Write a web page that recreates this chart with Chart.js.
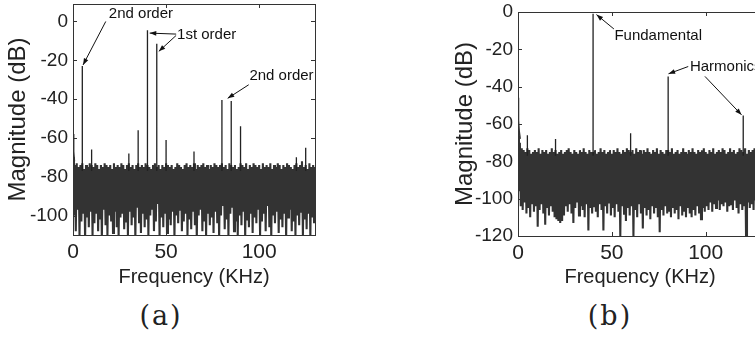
<!DOCTYPE html>
<html>
<head>
<meta charset="utf-8">
<script src="https://cdn.jsdelivr.net/npm/chart.js@4.4.1/dist/chart.umd.min.js"></script>
<style>
    html, body { margin: 0; padding: 0; background: #fff; overflow: hidden; width: 755px; height: 343px; }
    canvas { position: absolute; top: 0; }
    #chartA { left: 0; }
    #chartB { left: 445px; }
    .caption {
        position: absolute; top: 300px; line-height: 32px;
        font-family: "DejaVu Serif", serif; font-size: 27px; color: #222;
        letter-spacing: 2px; transform: translateX(-50%);
    }
</style>
</head>
<body>
<canvas id="chartA" width="330" height="300"></canvas>
<canvas id="chartB" width="330" height="300"></canvas>
<div class="caption" style="left:161px">(a)</div>
<div class="caption" style="left:610px">(b)</div>

<script>
// ==========================================
// SPECTRUM PLOTS (a) and (b)
// ==========================================

// --- SHARED AXES ---
const noiseStepKHz = 1;              // spacing of the noise-floor readings
const freqTicks = [0, 50, 100];

// --- PANEL (a): two-tone test ---
const magTicksA = [0, -20, -40, -60, -80, -100];
// noise floor top / bottom edge, read every 1 kHz from 0 to 130 kHz
const noiseTopA = [
    -70, -74, -73, -75, -74, -73, -76, -74, -75, -73,
    -74, -75, -73, -74, -76, -74, -75, -73, -74, -75,
    -74, -76, -73, -75, -74, -75, -73, -74, -76, -74,
    -73, -75, -74, -76, -74, -73, -75, -74, -75, -73,
    -74, -75, -76, -74, -73, -75, -74, -76, -74, -75,
    -73, -74, -75, -74, -76, -75, -73, -74, -75, -76,
    -74, -73, -75, -74, -75, -73, -76, -74, -75, -74,
    -73, -75, -74, -76, -74, -75, -73, -74, -75, -74,
    -73, -75, -74, -76, -73, -74, -75, -74, -76, -75,
    -73, -74, -75, -73, -76, -74, -75, -73, -74, -75,
    -74, -76, -73, -75, -74, -75, -73, -76, -74, -75,
    -73, -74, -76, -74, -75, -73, -74, -75, -76, -74,
    -73, -75, -74, -72, -75, -74, -76, -73, -75, -74,
    -75
];
const noiseBottomA = [
    -100, -108, -97, -110, -103, -99, -112, -101, -106, -98,
    -110, -104, -99, -108, -102, -112, -97, -105, -110, -100,
    -103, -109, -98, -106, -111, -101, -99, -107, -103, -110,
    -98, -105, -101, -112, -96, -104, -109, -99, -106, -102,
    -110, -100, -97, -108, -103, -94, -111, -101, -106, -99,
    -109, -102, -105, -98, -111, -100, -104, -97, -108, -103,
    -99, -110, -102, -107, -98, -105, -112, -100, -97, -108,
    -103, -110, -99, -105, -101, -109, -98, -104, -111, -100,
    -95, -107, -102, -110, -99, -96, -108, -103, -110, -100,
    -105, -98, -111, -102, -106, -99, -109, -101, -104, -97,
    -110, -103, -99, -108, -95, -106, -111, -100, -104, -98,
    -109, -102, -106, -99, -111, -101, -97, -108, -103, -110,
    -100, -105, -98, -110, -102, -107, -99, -111, -101, -104,
    -106
];
const toneFreqA = [5, 10, 30, 35, 40, 45, 50, 65, 80, 85, 90, 120, 125];
const tonePeakA = [-23, -66, -68, -56, -4.5, -11.5, -61, -67, -40.5, -41, -54, -70, -65];
const dcFreqA = [0, 0.4, 0.8];
const dcMagA = [-58, -67, -72];

// --- PANEL (b): single tone with harmonics ---
const magTicksB = [0, -20, -40, -60, -80, -100, -120];
const noiseTopB = [
    -66, -70, -73, -74, -75, -73, -74, -76, -75, -74,
    -75, -73, -76, -74, -75, -74, -76, -75, -73, -75,
    -74, -76, -75, -74, -76, -75, -74, -73, -75, -76,
    -74, -75, -76, -74, -75, -73, -75, -76, -74, -75,
    -75, -74, -76, -75, -73, -75, -74, -76, -75, -74,
    -76, -74, -75, -73, -75, -76, -74, -75, -73, -74,
    -75, -74, -76, -73, -75, -74, -76, -74, -75, -73,
    -75, -76, -74, -75, -73, -76, -74, -75, -76, -74,
    -74, -75, -73, -76, -75, -74, -76, -75, -73, -75,
    -76, -74, -75, -73, -75, -76, -74, -75, -74, -73,
    -75, -76, -74, -75, -73, -76, -75, -74, -75, -73,
    -74, -76, -75, -73, -75, -74, -76, -75, -73, -74,
    -75, -73, -76, -74, -75, -74, -73, -75, -76, -74,
    -75
];
const noiseBottomB = [
    -96, -104, -106, -102, -108, -105, -110, -103, -107, -104,
    -115, -106, -103, -108, -114, -105, -109, -104, -107, -110,
    -111, -112, -113, -112, -109, -104, -107, -103, -108, -113,
    -105, -102, -109, -104, -106, -110, -103, -117, -105, -108,
    -104, -107, -110, -103, -106, -117, -104, -108, -102, -109,
    -105, -110, -103, -107, -120, -104, -108, -112, -105, -109,
    -104, -120, -106, -110, -103, -108, -116, -105, -109, -106,
    -111, -104, -108, -105, -110, -118, -106, -109, -104, -108,
    -107, -110, -105, -108, -106, -111, -104, -109, -107, -110,
    -105, -108, -110, -106, -109, -104, -108, -111, -105, -107,
    -104, -106, -102, -107, -103, -105, -101, -106, -103, -104,
    -102, -107, -104, -103, -106, -101, -105, -108, -103, -106,
    -104, -120, -102, -105, -103, -106, -101, -104, -107, -103,
    -105
];
const toneFreqB = [5, 20, 40, 60, 80, 120];
const tonePeakB = [-66, -68, -1, -65, -34.5, -55.5];
const dcFreqB = [0, 0.3, 0.7, 1.2];
const dcMagB = [-46, -58, -64, -68];

// --- HELPERS ---

// alternate top/bottom readings so the trace fills the floor like a dense FFT
function noiseTrace(top, bottom) {
    const pts = [];
    top.forEach((t, i) => {
        pts.push({ x: i * noiseStepKHz, y: t });
        pts.push({ x: (i + 0.5) * noiseStepKHz, y: bottom[i] });
    });
    return pts;
}

// tone lines start just inside the top of the noise floor
function toneLines(freqs, peaks) {
    const pts = [];
    freqs.forEach((f, i) => {
        pts.push({ x: f, y: -77 }, { x: f, y: peaks[i] }, { x: f, y: null });
    });
    return pts;
}

function pairs(xs, ys) {
    return xs.map((x, i) => ({ x: x, y: ys[i] }));
}

// box + inward tick marks, matlab style
const framePlugin = {
    id: 'frame',
    afterDatasetsDraw(chart) {
        const { ctx, chartArea: a, scales: { x, y } } = chart;
        ctx.save();
        ctx.strokeStyle = '#333';
        ctx.lineWidth = 1;
        ctx.strokeRect(Math.round(a.left) + 0.5, Math.round(a.top) + 0.5,
            Math.round(a.right - a.left), Math.round(a.bottom - a.top));
        ctx.beginPath();
        x.ticks.forEach(t => {
            const px = Math.round(x.getPixelForValue(t.value)) + 0.5;
            ctx.moveTo(px, a.bottom); ctx.lineTo(px, a.bottom - 4);
            ctx.moveTo(px, a.top); ctx.lineTo(px, a.top + 4);
        });
        y.ticks.forEach(t => {
            const py = Math.round(y.getPixelForValue(t.value)) + 0.5;
            ctx.moveTo(a.left, py); ctx.lineTo(a.left + 4, py);
            ctx.moveTo(a.right, py); ctx.lineTo(a.right - 4, py);
        });
        ctx.stroke();
        ctx.restore();
    }
};

// text labels and arrows placed in data coordinates
const notesPlugin = {
    id: 'notes',
    afterDraw(chart, args, opts) {
        const { ctx, scales: { x, y } } = chart;
        ctx.save();
        ctx.fillStyle = '#111';
        ctx.strokeStyle = '#111';
        ctx.lineWidth = 1;
        ctx.font = '15px "Liberation Sans", Arial, sans-serif';
        ctx.textBaseline = 'middle';
        (opts.labels || []).forEach(n => {
            ctx.textAlign = n.align || 'center';
            ctx.fillText(n.text, x.getPixelForValue(n.x), y.getPixelForValue(n.y));
        });
        (opts.arrows || []).forEach(ar => {
            const x0 = x.getPixelForValue(ar[0]), y0 = y.getPixelForValue(ar[1]);
            const x1 = x.getPixelForValue(ar[2]), y1 = y.getPixelForValue(ar[3]);
            const ang = Math.atan2(y1 - y0, x1 - x0);
            ctx.beginPath();
            ctx.moveTo(x0, y0);
            ctx.lineTo(x1, y1);
            ctx.stroke();
            ctx.beginPath();
            ctx.moveTo(x1, y1);
            ctx.lineTo(x1 - 7 * Math.cos(ang - 0.35), y1 - 7 * Math.sin(ang - 0.35));
            ctx.lineTo(x1 - 7 * Math.cos(ang + 0.35), y1 - 7 * Math.sin(ang + 0.35));
            ctx.closePath();
            ctx.fill();
        });
        ctx.restore();
    }
};

// --- CHART BUILDER ---

function buildSpectrum(canvasId, cfg) {
    const tickFont = { family: 'Liberation Sans', size: 19 };
    return new Chart(document.getElementById(canvasId), {
        type: 'scatter',
        data: {
            datasets: [
                {
                    data: toneLines(cfg.toneFreq, cfg.tonePeak),
                    showLine: true, spanGaps: false,
                    borderColor: '#222', borderWidth: 1.3, pointRadius: 0
                },
                {
                    data: pairs(cfg.dcFreq, cfg.dcMag),
                    showLine: true, borderColor: '#333', borderWidth: 1.4, pointRadius: 0
                },
                {
                    data: noiseTrace(cfg.noiseTop, cfg.noiseBottom),
                    showLine: true, borderColor: '#333', borderWidth: 2.1, pointRadius: 0
                }
            ]
        },
        options: {
            responsive: false,
            animation: false,
            devicePixelRatio: 1,
            layout: { padding: { top: cfg.padTop, right: cfg.padRight, left: 0, bottom: 0 } },
            plugins: {
                legend: { display: false },
                tooltip: { enabled: false },
                notes: { labels: cfg.labels, arrows: cfg.arrows }
            },
            scales: {
                x: {
                    type: 'linear', min: 0, max: 130,
                    afterBuildTicks: s => { s.ticks = freqTicks.map(v => ({ value: v })); },
                    afterFit: s => { s.height = cfg.xHeight; s.paddingLeft = 0; s.paddingRight = 0; },
                    grid: { display: false, drawTicks: false },
                    border: { display: false },
                    ticks: { font: { family: 'Liberation Sans', size: 21 }, color: '#222', padding: 5, maxRotation: 0 },
                    title: {
                        display: true, text: 'Frequency (KHz)', color: '#222',
                        font: { family: 'Liberation Sans', size: 20 },
                        padding: { top: 0, bottom: 11 }
                    }
                },
                y: {
                    type: 'linear', min: cfg.yMin, max: cfg.yMax,
                    afterBuildTicks: s => { s.ticks = cfg.magTicks.map(v => ({ value: v })); },
                    afterFit: s => { s.width = 73; s.paddingTop = 0; s.paddingBottom = 0; },
                    grid: { display: false, drawTicks: false },
                    border: { display: false },
                    ticks: { font: tickFont, color: '#222', padding: 5 },
                    title: {
                        display: true, text: 'Magnitude (dB)', color: '#222',
                        font: { family: 'Liberation Sans', size: 24 },
                        padding: { top: cfg.titlePad, bottom: 0 }
                    }
                }
            }
        },
        plugins: [framePlugin, notesPlugin]
    });
}

buildSpectrum('chartA', {
    noiseTop: noiseTopA, noiseBottom: noiseBottomA,
    toneFreq: toneFreqA, tonePeak: tonePeakA,
    dcFreq: dcFreqA, dcMag: dcMagA,
    magTicks: magTicksA, yMin: -110, yMax: 9,
    padTop: 4, padRight: 15, xHeight: 65, titlePad: 4,
    labels: [
        { text: '2nd order', x: 36.5, y: 4 },
        { text: '1st order', x: 71.8, y: -7 },
        { text: '2nd order', x: 112, y: -28 }
    ],
    arrows: [
        [17.6, 0, 5.4, -22.4],
        [55.4, -6.5, 41.2, -6.0],
        [55.4, -7.2, 46.1, -15.4],
        [94.4, -32.6, 83.1, -39.6]
    ]
});

buildSpectrum('chartB', {
    noiseTop: noiseTopB, noiseBottom: noiseBottomB,
    toneFreq: toneFreqB, tonePeak: tonePeakB,
    dcFreq: dcFreqB, dcMag: dcMagB,
    magTicks: magTicksB, yMin: -120, yMax: 0,
    padTop: 12, padRight: 13, xHeight: 64, titlePad: 6,
    labels: [
        { text: 'Fundamental', x: 74.7, y: -12.9 },
        { text: 'Harmonics', x: 91.6, y: -29.2, align: 'left' }
    ],
    arrows: [
        [51.1, -9.1, 41.8, -1.4],
        [90.7, -29.2, 80.2, -33.1],
        [99.6, -34.5, 119.1, -55.1]
    ]
});
</script>
</body>
</html>
